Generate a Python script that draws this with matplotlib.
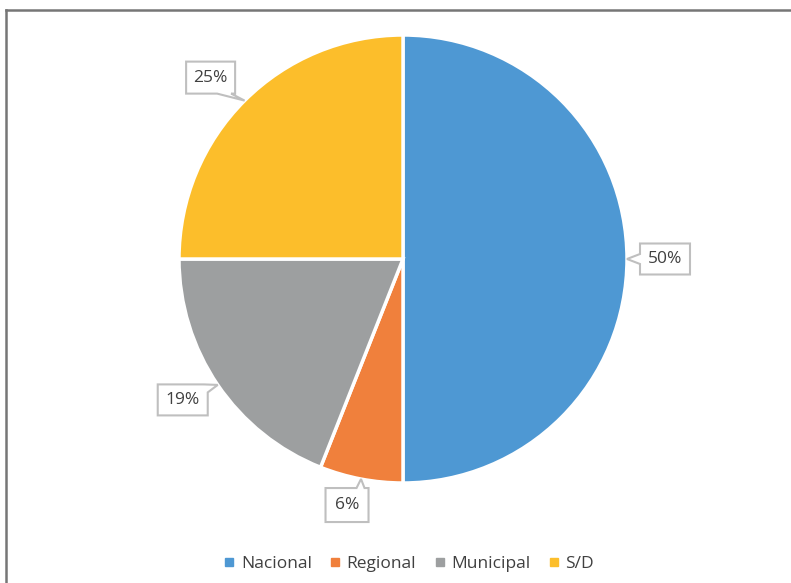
import matplotlib
matplotlib.use("Agg")
import matplotlib.pyplot as plt
import numpy as np
from matplotlib.patches import Polygon
from matplotlib.lines import Line2D
from matplotlib.transforms import IdentityTransform

categories = ["Nacional", "Regional", "Municipal", "S/D"]
values = [50, 6, 19, 25]
labels = ["50%", "6%", "19%", "25%"]
colors = ["#4E98D3", "#F0803C", "#9D9FA0", "#FCBE2B"]

plt.rcParams['font.family'] = ['Open Sans', 'DejaVu Sans']
W, H = 791, 583
dpi = 100
fig = plt.figure(figsize=(W / dpi, H / dpi), dpi=dpi)
fig.patch.set_facecolor("white")

cx, cy, r = 403, 259, 224
ax = fig.add_axes([(cx - r) / W, (H - cy - r) / H, 2 * r / W, 2 * r / H])
wedges, _ = ax.pie(values, colors=colors, startangle=90, counterclock=False,
                   radius=1.0, wedgeprops=dict(edgecolor="white", linewidth=2.5))
ax.set_xlim(-1, 1)
ax.set_ylim(-1, 1)
ax.set_aspect("equal")
ax.axis("off")

# callout boxes: (dx, dy) box center offset from tip in px (y up), w, h, pointer style
callouts = [
    (38, 0, 50, 31, "left"),
    (-14, -26, 43, 34, "top"),
    (-35, -15, 50, 31, "topright"),
    (-34, 23, 49, 32, "bottomright"),
]
fig.canvas.draw()
for w_, lab, (dx, dy, bw, bh, style) in zip(wedges, labels, callouts):
    mid = np.deg2rad((w_.theta1 + w_.theta2) / 2)
    tx, ty = ax.transData.transform((np.cos(mid), np.sin(mid)))
    bxc, byc = tx + dx, ty + dy
    x0, x1 = bxc - bw / 2, bxc + bw / 2
    y0, y1 = byc - bh / 2, byc + bh / 2
    tip = (tx, ty)
    if style == "left":
        pts = [(x0, y1), (x1, y1), (x1, y0), (x0, y0), (x0, byc - 5), tip, (x0, byc + 5)]
    elif style == "top":
        pts = [(x0, y1), (x1 - 12, y1), tip, (x1 - 4, y1), (x1, y1), (x1, y0), (x0, y0)]
    elif style == "topright":
        pts = [(x0, y1), (x1 - 4, y1), tip, (x1, y1 - 8), (x1, y0), (x0, y0)]
    else:  # bottomright
        pts = [(x0, y1), (x1, y1), (x1, y0), (x1 - 4, y0), tip, (x1 - 18, y0), (x0, y0)]
    poly = Polygon(pts, closed=True, transform=IdentityTransform(), facecolor="white",
                   edgecolor="#BFBFBF", linewidth=1.5, zorder=5)
    fig.add_artist(poly)
    fig.text(bxc / W, byc / H, lab, ha="center", va="center", fontsize=12.5,
             color="#404040", zorder=6)

# frame lines
fig.add_artist(Line2D([6 / W, 1], [1 - 10 / H, 1 - 10 / H], color="#767676", linewidth=1.8))
fig.add_artist(Line2D([6 / W, 6 / W], [0, 1 - 10 / H], color="#767676", linewidth=1.8))

handles = [Line2D([], [], marker="s", linestyle="none", markersize=6, color=c) for c in colors]
fig.legend(handles, categories, loc="center", bbox_to_anchor=(408 / W, 1 - 564 / H),
           ncol=4, frameon=False, fontsize=12.5, labelcolor="#404040",
           handletextpad=0.25, columnspacing=0.95, handlelength=0.8)

fig.savefig("out.png", dpi=dpi, facecolor="white")
